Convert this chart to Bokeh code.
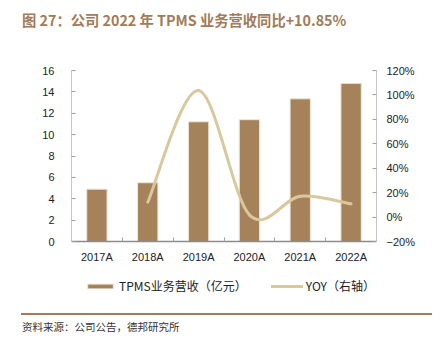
import numpy as np
from bokeh.plotting import figure
from bokeh.layouts import column
from bokeh.models import (Range1d, LinearAxis, FixedTicker, Legend, LegendItem, Div,
                          CustomJSTickFormatter)
from bokeh.embed import file_html
from bokeh.resources import INLINE

# ---- data ----
years = ["2017A", "2018A", "2019A", "2020A", "2021A", "2022A"]
revenue = [4.9, 5.5, 11.2, 11.4, 13.35, 14.8]          # 亿元
yoy = [None, 12.2, 103.6, 1.8, 17.1, 10.85]             # %
left_ticks = [0, 2, 4, 6, 8, 10, 12, 14, 16]
right_ticks = [-20, 0, 20, 40, 60, 80, 100, 120]

title_text = "图 27：公司 2022 年 TPMS 业务营收同比+10.85%"
source_text = "资料来源：公司公告，德邦研究所"
bar_label = "TPMS业务营收（亿元）"
line_label = "YOY（右轴）"

BAR = "#A5825A"
LINE = "#D9C79E"
BROWN = "#A27B58"
CJK = "Noto Sans CJK SC"
LAT = "Liberation Sans"

# ---- layout (pixels on the page) ----
W = 441
TOP_H, MAIN_H, BOT_H = 40, 265, 39
FL, FR = 71, 376            # frame left / right
AX_TOP, AX_ZERO = 70, 241   # where the top tick and the zero line sit
FRAME_BOTTOM = 300          # frame extends below axis to hold the legend

L_MIN, L_MAX = left_ticks[0], left_ticks[-1]
R_MIN, R_MAX = right_ticks[0], right_ticks[-1]
l_px = (AX_ZERO - AX_TOP) / (L_MAX - L_MIN)
r_px = (AX_ZERO - AX_TOP) / (R_MAX - R_MIN)
extra = FRAME_BOTTOM - AX_ZERO

# ---- title strip ----
top = Div(width=W, height=TOP_H, margin=(0, 0, 0, 0),
          text=(f'<div style="padding:11px 0 0 22px;margin:0;font-family:\'{CJK}\';font-size:14.3px;'
                f'font-weight:bold;color:{BROWN};line-height:18px;white-space:nowrap;">{title_text}</div>'))

# ---- main chart ----
p = figure(width=W, height=MAIN_H, output_backend="svg", toolbar_location=None,
           x_range=Range1d(0, len(years)),
           y_range=Range1d(L_MIN - extra / l_px, L_MAX),
           min_border_left=FL, min_border_right=W - FR,
           min_border_top=AX_TOP - TOP_H,
           min_border_bottom=TOP_H + MAIN_H - FRAME_BOTTOM, margin=(0, 0, 0, 0))
p.outline_line_color = None
p.grid.visible = False

xc = np.arange(len(years)) + 0.5
bar_r = p.vbar(x=xc, top=revenue, width=0.4, fill_color=BAR, line_color="#EFE6D8", line_width=1)

p.extra_y_ranges = {"yoy": Range1d(R_MIN - extra / r_px, R_MAX)}

# smooth (Excel style) curve through the yoy points
pts = [(xc[i], yoy[i]) for i in range(len(years)) if yoy[i] is not None]
P = np.array(pts, dtype=float)
n = len(P)
x0, y0, x1, y1, cx0, cy0, cx1, cy1 = [], [], [], [], [], [], [], []
for i in range(n - 1):
    pm = P[i - 1] if i > 0 else P[i]
    pa = P[i]
    pb = P[i + 1]
    pn = P[i + 2] if i + 2 < n else P[i + 1]
    c0 = pa + (pb - pm) / 6.0
    c1 = pb - (pn - pa) / 6.0
    x0.append(pa[0]); y0.append(pa[1]); x1.append(pb[0]); y1.append(pb[1])
    cx0.append(c0[0]); cy0.append(c0[1]); cx1.append(c1[0]); cy1.append(c1[1])
line_r = p.bezier(x0=x0, y0=y0, x1=x1, y1=y1, cx0=cx0, cy0=cy0, cx1=cx1, cy1=cy1,
                  line_color=LINE, line_width=3, line_cap="round", y_range_name="yoy")

# x axis, pinned at y = 0
xa = p.xaxis[0]
xa.fixed_location = 0
xa.ticker = FixedTicker(ticks=list(xc), minor_ticks=list(range(len(years) + 1)))
xa.major_label_overrides = {float(x): y for x, y in zip(xc, years)}
xa.major_tick_in = 0
xa.major_tick_out = 0
xa.minor_tick_in = 4
xa.minor_tick_out = 0
xa.minor_tick_line_color = "#A0A0A0"
xa.axis_line_color = "#8C8C8C"
xa.axis_line_width = 1.5
xa.major_label_standoff = 9
xa.major_label_text_font = LAT
xa.major_label_text_font_size = "11px"
xa.major_label_text_color = "#222222"

# left axis
ya = p.yaxis[0]
ya.bounds = (L_MIN, L_MAX)
ya.ticker = FixedTicker(ticks=left_ticks)
ya.major_tick_in = 4
ya.major_tick_out = 0
ya.minor_tick_line_color = None
ya.axis_line_color = "#C8C8C8"
ya.major_tick_line_color = "#A0A0A0"
ya.major_label_standoff = 17
ya.major_label_text_font = LAT
ya.major_label_text_font_size = "11px"
ya.major_label_text_color = "#222222"

ra = LinearAxis(y_range_name="yoy", ticker=FixedTicker(ticks=right_ticks), bounds=(R_MIN, R_MAX),
                formatter=CustomJSTickFormatter(code="return (tick < 0 ? '\u2212' + (-tick) : tick) + '%';"))
ra.major_tick_in = 4
ra.major_tick_out = 0
ra.minor_tick_line_color = None
ra.axis_line_color = "#C8C8C8"
ra.major_tick_line_color = "#A0A0A0"
ra.major_label_standoff = 10
ra.major_label_text_font = LAT
ra.major_label_text_font_size = "11px"
ra.major_label_text_color = "#222222"
p.add_layout(ra, "right")

legend = Legend(items=[LegendItem(label=bar_label, renderers=[bar_r]),
                       LegendItem(label=line_label, renderers=[line_r])],
                orientation="horizontal", location=(13, 6),
                glyph_width=32, glyph_height=6, label_standoff=3, spacing=24,
                padding=0, margin=0, border_line_color=None, background_fill_alpha=0,
                label_text_font=CJK, label_text_font_size="12px", label_text_color="#222222",
                label_height=14)
p.add_layout(legend, "center")

# ---- source strip ----
bot = Div(width=W, height=BOT_H, margin=(0, 0, 0, 0),
          text=(f'<div style="margin:8px 0 0 21px;width:411px;height:0;border-top:2px solid {BROWN};"></div>'
                f'<div style="padding:5px 0 0 22px;margin:0;font-family:\'{CJK}\';font-size:10.5px;'
                f'color:#333333;line-height:14px;white-space:nowrap;">{source_text}</div>'))

layout = column(top, p, bot, spacing=0)
open("out.html", "w").write(file_html(layout, INLINE))
